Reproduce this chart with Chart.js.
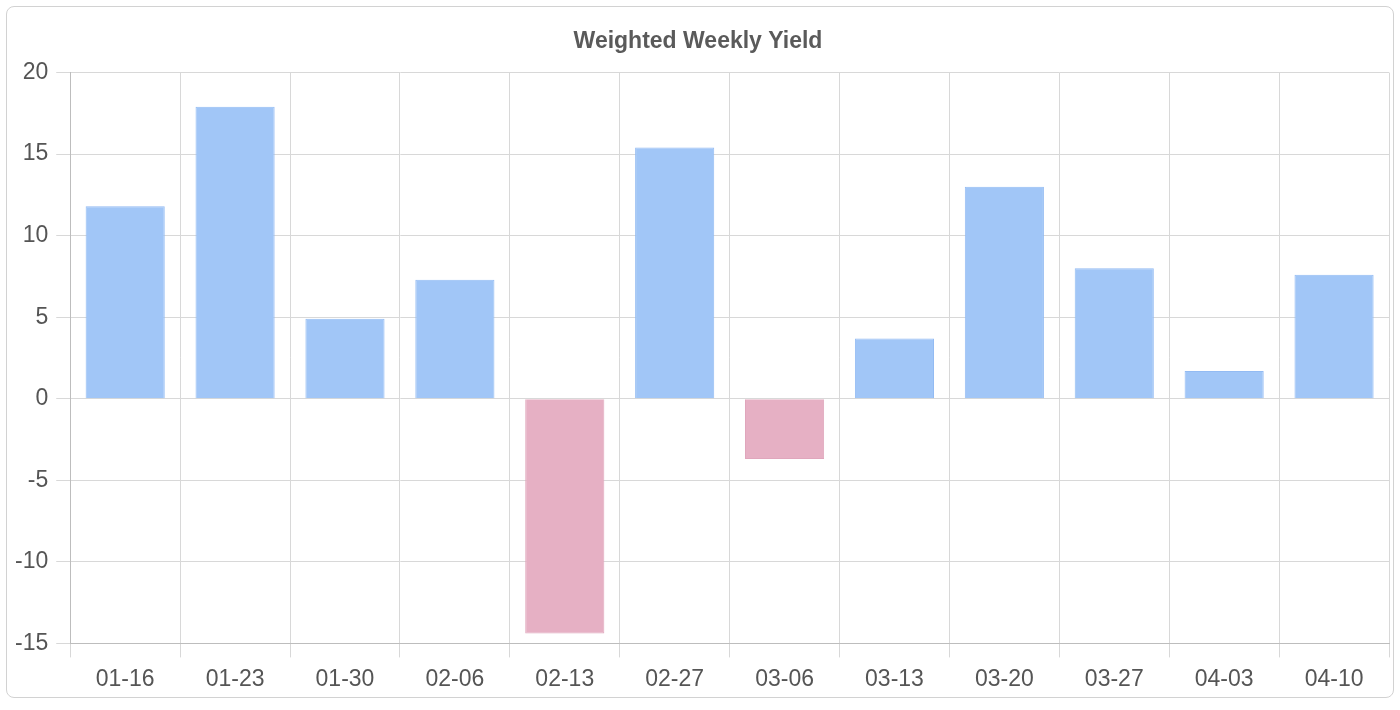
<!DOCTYPE html>
<html>
<head>
<meta charset="utf-8">
<script src="https://cdn.jsdelivr.net/npm/chart.js@4"></script>
<style>
  html, body { margin: 0; padding: 0; background: #fff; }
  #box {
    position: absolute; left: 6px; top: 6px;
    width: 1386px; height: 690px;
    border: 1px solid #d2d2d2; border-radius: 8px;
    overflow: hidden;
  }
  #c { display: block; position: absolute; left: 0; top: 0; }
</style>
</head>
<body>
<div id="box"><canvas id="c" width="1386" height="694"></canvas></div>
<script>
const categories = ['01-16','01-23','01-30','02-06','02-13','02-27','03-06','03-13','03-20','03-27','04-03','04-10'];
const yieldValues = [11.8, 17.9, 4.9, 7.3, -14.4, 15.4, -3.7, 3.7, 13.0, 8.0, 1.7, 7.6];
const yTicks = [20, 15, 10, 5, 0, -5, -10, -15];
const chartTitle = 'Weighted Weekly Yield';

const posFill = 'rgb(161,198,247)', posBorder = 'rgb(147,187,243)';
const negFill = 'rgb(230,176,196)', negBorder = 'rgb(224,166,188)';

const FONT = "'Liberation Sans', Arial, Helvetica, sans-serif";

new Chart(document.getElementById('c'), {
  type: 'bar',
  data: {
    labels: categories,
    datasets: [{
      label: chartTitle,
      data: yieldValues,
      backgroundColor: yieldValues.map(v => v >= 0 ? posFill : negFill),
      borderColor: yieldValues.map(v => v >= 0 ? posBorder : negBorder),
      borderWidth: 1,
      barPercentage: 0.9,
      categoryPercentage: 0.8
    }]
  },
  options: {
    responsive: false,
    animation: false,
    devicePixelRatio: 1,
    layout: { padding: { left: 0, right: 4, top: 17, bottom: 0 } },
    plugins: {
      legend: { display: false },
      tooltip: { enabled: false },
      title: {
        display: true,
        text: chartTitle,
        color: '#5a5a5a',
        font: { family: FONT, size: 23, weight: 'bold' },
        padding: { top: 4, bottom: 17 }
      }
    },
    scales: {
      x: {
        grid: { color: '#d8d8d8', lineWidth: 1, tickLength: 14, offset: true },
        border: { color: '#bdbdbd' },
        ticks: { color: '#555', font: { family: FONT, size: 23 }, padding: 8, maxRotation: 0 }
      },
      y: {
        min: -15, max: 20,
        afterBuildTicks: axis => { axis.ticks = yTicks.map(v => ({ value: v })); },
        grid: { color: '#d8d8d8', lineWidth: 1, tickLength: 14 },
        border: { color: '#bdbdbd' },
        ticks: { color: '#555', font: { family: FONT, size: 23 }, padding: 8 }
      }
    }
  }
});
</script>
</body>
</html>
